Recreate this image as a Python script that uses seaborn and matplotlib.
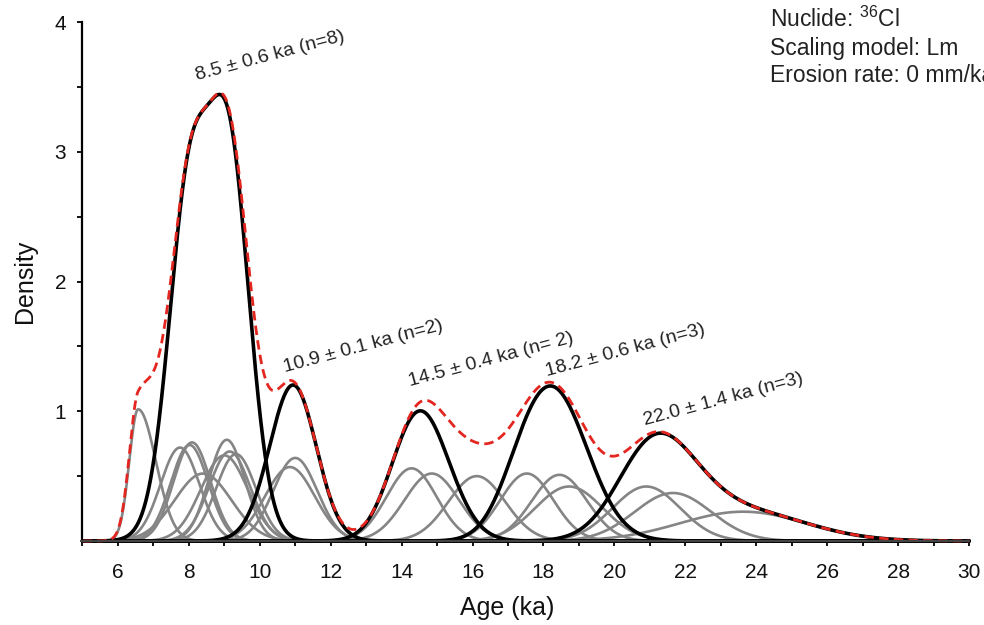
import numpy as np
import pandas as pd
import matplotlib
matplotlib.use("Agg")
import matplotlib.pyplot as plt
import seaborn as sns

# ---- data ----
sample_ids   = ["o1", "a", "b", "h", "c", "d", "e", "f", "g",
                "s2", "s1", "p1", "p2", "o2", "p4", "q1", "q2", "r1", "r2", "r3"]
sample_mode  = [6.57, 7.75, 8.09, 8.02, 8.40, 9.07, 9.15, 9.33, 9.00,
                10.85, 11.00, 14.28, 14.85, 16.12, 17.53, 18.45, 18.72, 20.90, 21.65, 23.63]
sample_sig_l = [0.25, 0.55, 0.52, 0.53, 0.80, 0.51, 0.58, 0.56, 0.66,
                0.70, 0.62, 0.71, 0.77, 0.80, 0.75, 0.78, 0.95, 0.95, 1.08, 1.78]
sample_sig_r = [0.50, 0.55, 0.52, 0.53, 0.80, 0.51, 0.58, 0.56, 0.66,
                0.70, 0.62, 0.71, 0.77, 0.80, 0.75, 0.78, 0.95, 0.95, 1.08, 1.78]
sample_peak  = [1.015, 0.72, 0.76, 0.74, 0.52, 0.78, 0.69, 0.67, 0.66,
                0.57, 0.64, 0.56, 0.52, 0.50, 0.52, 0.51, 0.42, 0.42, 0.37, 0.226]
sample_group = ["", "g1", "g1", "g1", "g1", "g1", "g1", "g1", "g1",
                "g2", "g2", "g3", "g3", "", "g4", "g4", "g4", "g5", "g5", "g5"]

group_ids    = ["g1", "g2", "g3", "g4", "g5"]
group_labels = ["8.5 \u00b1 0.6 ka (n=8)", "10.9 \u00b1 0.1 ka (n=2)",
                "14.5 \u00b1 0.4 ka (n= 2)", "18.2 \u00b1 0.6 ka (n=3)",
                "22.0 \u00b1 1.4 ka (n=3)"]
label_x      = [8.22, 10.71, 14.24, 18.09, 20.86]
label_y      = [3.55, 1.30, 1.19, 1.27, 0.89]

info_lines   = [r"Nuclide: $^{36}$Cl", "Scaling model: Lm", "Erosion rate: 0 mm/ka"]

x_min, x_max = 5, 30
y_max = 4

# ---- build curves ----
grid = np.linspace(x_min, x_max, 2501)

def curve(mode, sl, sr, peak):
    s = np.where(grid < mode, sl, sr)
    return peak * np.exp(-(grid - mode) ** 2 / (2 * s ** 2))

rows = []
curves = {}
for sid, m, sl, sr, pk, g in zip(sample_ids, sample_mode, sample_sig_l,
                                 sample_sig_r, sample_peak, sample_group):
    d = curve(m, sl, sr, pk)
    curves[sid] = (d, g)
    rows.append(pd.DataFrame({"age": grid, "density": d, "sample": sid}))
df_gray = pd.concat(rows, ignore_index=True)

grows = []
for g in group_ids:
    tot = np.sum([d for d, gg in curves.values() if gg == g], axis=0)
    grows.append(pd.DataFrame({"age": grid, "density": tot, "group": g}))
df_black = pd.concat(grows, ignore_index=True)

total = np.sum([d for d, _ in curves.values()], axis=0)
df_red = pd.DataFrame({"age": grid, "density": total})

# ---- plotting ----
sns.set_theme(style="ticks")
plt.rcParams["font.family"] = ["Liberation Sans", "DejaVu Sans"]
plt.rcParams["mathtext.fontset"] = "custom"
plt.rcParams["mathtext.rm"] = "Liberation Sans"
plt.rcParams["mathtext.it"] = "Liberation Sans"

fig = plt.figure(figsize=(9.84, 6.25), dpi=100)
ax = fig.add_axes([0.0838, 0.1344, 0.9010, 0.8304])

sns.lineplot(data=df_gray, x="age", y="density", units="sample", estimator=None,
             color="#858585", lw=1.9, ax=ax, legend=False, clip_on=False)
sns.lineplot(data=df_black, x="age", y="density", units="group", estimator=None,
             color="black", lw=2.6, ax=ax, legend=False, clip_on=False)
sns.lineplot(data=df_red, x="age", y="density", color="#e3261f", lw=2.0,
             dashes=False, ax=ax, legend=False, clip_on=False,
             linestyle=(0, (3.4, 1.9)))

ax.set_xlim(x_min, x_max)
ax.set_ylim(0, y_max)
ax.set_xticks(np.arange(6, 31, 2))
ax.set_xticks(np.arange(5, 31, 1), minor=True)
ax.set_yticks([1, 2, 3, 4])
ax.set_yticks([0.5, 1.5, 2.5, 3.5], minor=True)
ax.tick_params(axis="both", which="both", direction="out", length=3.6, width=1.3,
               color="black", labelsize=15, labelcolor="#111111")
ax.tick_params(axis="x", which="both", pad=12)
ax.tick_params(axis="y", which="both", pad=8)

sns.despine(ax=ax)
ax.spines["left"].set_linewidth(1.6)
ax.spines["left"].set_color("black")
ax.spines["bottom"].set_linewidth(1.6)
ax.spines["bottom"].set_color("#444444")

ax.set_xlabel("Age (ka)", fontsize=18, color="#111111")
ax.set_ylabel("Density", fontsize=18, color="#111111")
ax.xaxis.set_label_coords(0.479, -0.129)
ax.yaxis.set_label_coords(-0.065, 0.5)
ax.xaxis.label.set_va("center")
ax.yaxis.label.set_va("center")

for txt, lx, ly in zip(group_labels, label_x, label_y):
    ax.text(lx, ly, txt, rotation=15, rotation_mode="anchor", ha="left",
            va="baseline", fontsize=14, color="#222222")

for i, line in enumerate(info_lines):
    fig.text(770 / 984, 1 - (27 + 27.5 * i) / 625, line, ha="left", va="baseline",
             fontsize=16.5, color="#222222")

fig.savefig("out.png", dpi=100)
